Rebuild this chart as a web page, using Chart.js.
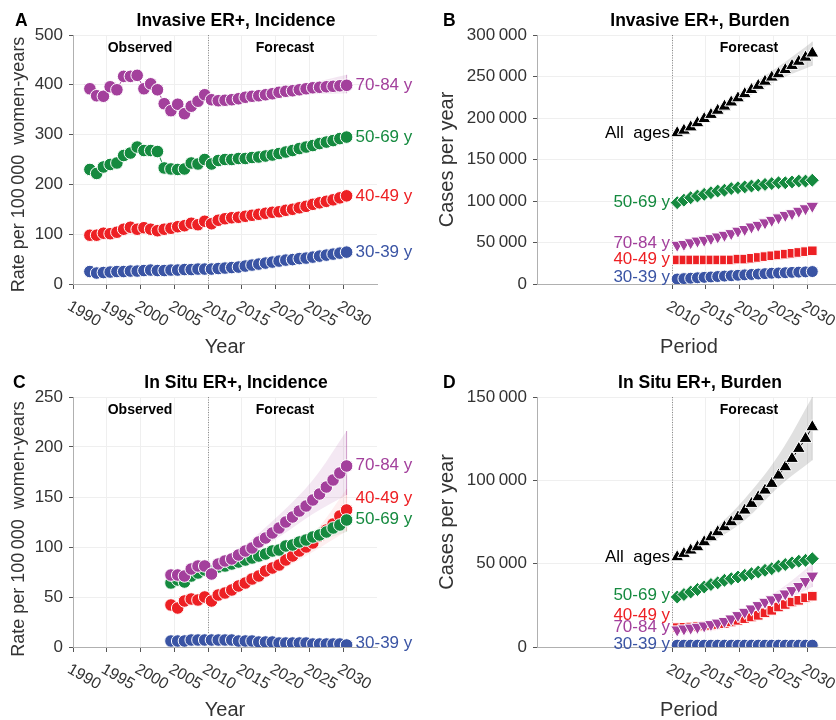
<!DOCTYPE html>
<html>
<head>
<meta charset="utf-8">
<script src="https://cdn.jsdelivr.net/npm/chart.js@4"></script>
<style>
html, body { margin: 0; padding: 0; background: #fff; width: 836px; height: 720px; overflow: hidden; }
.panel { position: absolute; }
</style>
</head>
<body>
<div class="panel" style="left:0;top:0"><canvas id="cA" width="418" height="370"></canvas></div>
<div class="panel" style="left:420px;top:0"><canvas id="cB" width="430" height="370"></canvas></div>
<div class="panel" style="left:0;top:370px"><canvas id="cC" width="418" height="350"></canvas></div>
<div class="panel" style="left:420px;top:370px"><canvas id="cD" width="430" height="350"></canvas></div>
<script>
"use strict";

// ---- data ----
const invIncYears = [1992, 1993, 1994, 1995, 1996, 1997, 1998, 1999, 2000, 2001, 2002, 2003, 2004, 2005, 2006, 2007, 2008, 2009,
  2010, 2011, 2012, 2013, 2014, 2015, 2016, 2017, 2018, 2019, 2020, 2021, 2022, 2023, 2024, 2025, 2026, 2027, 2028, 2029, 2030];
const invInc30 = [25, 22, 23, 24, 25, 25, 26, 26, 27, 28, 27, 27, 28, 28, 29, 29, 30, 30,
  30, 31, 32, 33, 34, 36, 38, 40, 42, 44, 46, 48, 49, 51, 52, 54, 56, 58, 60, 62, 64];
const invInc40 = [98, 98, 102, 101, 104, 110, 114, 110, 113, 110, 107, 110, 112, 115, 117, 122, 119, 126,
  121, 128, 131, 133, 134, 136, 138, 140, 142, 144, 145, 148, 150, 153, 156, 160, 163, 166, 169, 173, 177];
const invInc50 = [230, 222, 235, 240, 243, 258, 263, 275, 268, 268, 266, 233, 231, 230, 231, 243, 241, 250,
  241, 248, 250, 250, 252, 252, 254, 255, 257, 259, 262, 265, 268, 272, 275, 278, 282, 285, 288, 292, 295];
const invInc70 = [392, 378, 377, 396, 390, 417, 417, 419, 392, 402, 390, 362, 348, 361, 342, 357, 367, 380,
  370, 368, 369, 370, 372, 375, 377, 378, 380, 382, 385, 387, 388, 390, 392, 394, 395, 396, 397, 398, 399];

const situIncYears = [2004, 2005, 2006, 2007, 2008, 2009, 2010, 2011, 2012, 2013, 2014, 2015, 2016, 2017,
  2018, 2019, 2020, 2021, 2022, 2023, 2024, 2025, 2026, 2027, 2028, 2029, 2030];
const situInc30 = [6, 6, 6, 7, 7, 7, 7, 7, 7, 7, 6, 6, 6, 5, 5, 5, 4, 4, 4, 4, 4, 3, 3, 3, 3, 3, 2];
const situInc40 = [42, 39, 46, 48, 47, 50, 46, 52, 54, 57, 61, 64, 68, 71, 76, 79, 82, 87, 91, 96, 100, 104, 111, 117, 123, 131, 137];
const situInc50 = [64, 67, 65, 71, 74, 77, 76, 80, 81, 83, 85, 87, 89, 91, 93, 96, 97, 101, 102, 105, 107, 110, 112, 115, 119, 122, 127];
const situInc70 = [72, 72, 71, 78, 81, 81, 73, 83, 86, 88, 92, 96, 99, 105, 109, 114, 119, 125, 130, 136, 141, 147, 153, 160, 167, 174, 181];

const burdenYears = [2010, 2011, 2012, 2013, 2014, 2015, 2016, 2017, 2018, 2019, 2020,
  2021, 2022, 2023, 2024, 2025, 2026, 2027, 2028, 2029, 2030];
const invBurAll = [182000, 185000, 189000, 194000, 199000, 204000, 209000, 214000, 219000, 224000, 229000,
  234000, 239000, 244000, 249000, 253000, 258000, 263000, 268000, 273000, 278000];
const invBur50 = [98000, 101000, 104000, 106000, 108000, 110000, 112000, 113000, 115000, 116000, 117000,
  118000, 119000, 120000, 121000, 122000, 122000, 123000, 124000, 124000, 125000];
const invBur70 = [47000, 48000, 50000, 52000, 53000, 55000, 57000, 59000, 61000, 64000, 66000,
  69000, 71000, 74000, 77000, 80000, 83000, 85000, 88000, 91000, 94000];
const invBur40 = [29000, 29000, 29000, 29000, 29000, 29000, 29000, 29000, 29000, 30000, 30000,
  31000, 32000, 33000, 34000, 35000, 36000, 37000, 38000, 39000, 40000];
const invBur30 = [6000, 6500, 7000, 7500, 8000, 8500, 9000, 9500, 10000, 10500, 11000,
  11500, 12000, 12500, 13000, 13300, 13600, 14000, 14300, 14600, 15000];

const situBurAll = [54000, 56000, 58000, 60000, 63000, 66000, 69000, 72000, 75000, 78000, 82000,
  86000, 90000, 94000, 98000, 103000, 108000, 113000, 119000, 125000, 132000];
const situBur50 = [30000, 31500, 33000, 34500, 36000, 37500, 38500, 40000, 41000, 42000, 43000,
  44000, 45000, 46000, 47000, 48500, 49500, 50500, 51500, 52000, 53000];
const situBur70 = [10400, 11000, 11500, 12000, 12800, 13600, 14500, 15500, 17000, 19000, 21000,
  23000, 25000, 27000, 28500, 30000, 32000, 34000, 36500, 39500, 42700];
const situBur40 = [11600, 11800, 12000, 12300, 12600, 13000, 13500, 14000, 15000, 16000, 17000,
  18000, 19000, 20500, 22000, 24000, 25500, 27000, 28000, 29500, 30500];
const situBur30 = [1100, 1100, 1100, 1100, 1100, 1100, 1100, 1100, 1100, 1100, 1100,
  1100, 1100, 1100, 1100, 1100, 1100, 1100, 1100, 1100, 1100];

// forecast uncertainty bands, read at five-year marks
const bandYears = [2010, 2015, 2020, 2025, 2030];
const invInc70Lo = [370, 372, 376, 381, 383];
const invInc70Hi = [370, 378, 390, 404, 420];
const situInc70Lo = [73, 90, 110, 133, 152];
const situInc70Hi = [73, 102, 132, 167, 216];
const situInc40Lo = [46, 60, 76, 95, 116];
const situInc40Hi = [46, 68, 88, 113, 158];
const situInc50Lo = [76, 84, 93, 104, 115];
const situInc50Hi = [76, 90, 102, 116, 140];
const invBurAllLo = [182000, 199000, 223000, 246000, 263000];
const invBurAllHi = [182000, 209000, 235000, 262000, 292000];
const situBurAllLo = [54000, 63000, 76000, 96000, 112000];
const situBurAllHi = [54000, 69000, 89000, 115000, 150000];
const situBur70Lo = [10400, 12500, 19000, 26000, 36000];
const situBur70Hi = [10400, 14500, 23000, 34000, 50000];
const situBur40Lo = [11600, 12500, 15500, 21000, 27000];
const situBur40Hi = [11600, 13500, 18500, 27000, 34000];

const xTicksInc = [1990, 1995, 2000, 2005, 2010, 2015, 2020, 2025, 2030];
const xTicksBur = [2010, 2015, 2020, 2025, 2030];

// ---- styling ----
const FONT = "'Liberation Sans', Arial, Helvetica, sans-serif";
const PURPLE = "#a3409c";
const GREEN = "#158a3f";
const RED = "#ed2024";
const BLUE = "#3a54a4";
const INC_OFF = 0.5;   // incidence points sit mid-year
const BUR_OFF = 0.75;

function pts(years, vals, off) {
  return years.map((yr, i) => ({ x: yr + off, y: vals[i] }));
}

function series(years, vals, off, color, shape, radius, order, rot) {
  return {
    data: pts(years, vals, off),
    borderColor: color,
    borderWidth: 1,
    backgroundColor: color,
    pointBackgroundColor: color,
    pointBorderColor: "#fff",
    pointBorderWidth: 1,
    pointStyle: shape,
    pointRotation: rot || 0,
    pointRadius: radius,
    tension: 0,
    fill: false,
    order: order,
  };
}

function band(years, lo, hi, off, fillColor, edgeColor) {
  const n = years.length - 1;
  return [
    { data: pts(years, lo, off), borderWidth: 0, pointRadius: 0, fill: false, tension: 0.35, order: 10 },
    { data: pts(years, hi, off), borderWidth: 0, pointRadius: 0, fill: "-1", backgroundColor: fillColor, tension: 0.35, order: 10 },
    { data: [{ x: years[n] + off, y: lo[n] }, { x: years[n] + off, y: hi[n] }],
      borderColor: edgeColor, borderWidth: 1, pointRadius: 0, fill: false, order: 10 },
  ];
}

function thinSpace(v) {
  return String(v).replace(/\B(?=(\d{3})+(?!\d))/g, "\u2009");
}

const panels = {
  cA: {
    geo: { w: 418, h: 370, left: 73, top: 35, right: 377, bottom: 284 },
    title: "Invasive ER+, Incidence", letter: "A", letterX: 15,
    yTitle: "Rate per 100\u2009000  women-years", yTitleX: 19, yTitleDy: 5, yTitleSize: 18,
    xTitle: "Year", xTicks: xTicksInc, observed: true, side: "right",
    labels: [
      { text: "70-84 y", color: PURPLE, y: invInc70[invInc70.length - 1] },
      { text: "50-69 y", color: GREEN, y: invInc50[invInc50.length - 1] },
      { text: "40-49 y", color: RED, y: invInc40[invInc40.length - 1] },
      { text: "30-39 y", color: BLUE, y: invInc30[invInc30.length - 1] },
    ],
  },
  cB: {
    geo: { w: 430, h: 370, left: 117, top: 35, right: 421, bottom: 284 },
    title: "Invasive ER+, Burden", letter: "B", letterX: 23,
    yTitle: "Cases per year", yTitleX: 27, yTitleDy: 0, yTitleSize: 20,
    xTitle: "Period", xTicks: xTicksBur, observed: false, side: "left",
    labels: [
      { text: "All  ages", color: "#000", y: 182000 },
      { text: "50-69 y", color: GREEN, y: 99000 },
      { text: "70-84 y", color: PURPLE, y: 49000 },
      { text: "40-49 y", color: RED, y: 30000 },
      { text: "30-39 y", color: BLUE, y: 7600 },
    ],
  },
  cC: {
    geo: { w: 418, h: 350, left: 73, top: 27, right: 377, bottom: 277 },
    title: "In Situ ER+, Incidence", letter: "C", letterX: 13,
    yTitle: "Rate per 100\u2009000  women-years", yTitleX: 19, yTitleDy: 7, yTitleSize: 18,
    xTitle: "Year", xTicks: xTicksInc, observed: true, side: "right",
    labels: [
      { text: "70-84 y", color: PURPLE, y: 182 },
      { text: "40-49 y", color: RED, y: 149 },
      { text: "50-69 y", color: GREEN, y: 128 },
      { text: "30-39 y", color: BLUE, y: 4 },
    ],
  },
  cD: {
    geo: { w: 430, h: 350, left: 117, top: 27, right: 421, bottom: 277 },
    title: "In Situ ER+, Burden", letter: "D", letterX: 23,
    yTitle: "Cases per year", yTitleX: 27, yTitleDy: 0, yTitleSize: 20,
    xTitle: "Period", xTicks: xTicksBur, observed: false, side: "left",
    labels: [
      { text: "All  ages", color: "#000", y: 54000 },
      { text: "50-69 y", color: GREEN, y: 31000 },
      { text: "40-49 y", color: RED, y: 19000 },
      { text: "70-84 y", color: PURPLE, y: 11700 },
      { text: "30-39 y", color: BLUE, y: 1600 },
    ],
  },
};

const deco = {
  id: "deco",
  beforeDatasetsDraw(chart) {
    const { ctx, chartArea: a } = chart;
    const px = Math.round(chart.scales.x.getPixelForValue(2010)) + 0.5;
    ctx.save();
    ctx.strokeStyle = "#8a8a8a";
    ctx.lineWidth = 1;
    ctx.setLineDash([1, 1.5]);
    ctx.beginPath();
    ctx.moveTo(px, a.top);
    ctx.lineTo(px, a.bottom);
    ctx.stroke();
    ctx.restore();
  },
  afterDraw(chart) {
    const p = panels[chart.canvas.id];
    const { ctx, chartArea: a } = chart;
    const { x, y } = chart.scales;
    ctx.save();
    ctx.textBaseline = "middle";
    ctx.fillStyle = "#000";

    ctx.font = `bold 17.5px ${FONT}`;
    ctx.textAlign = "center";
    ctx.fillText(p.title, a.left + 163, a.top - 14);
    ctx.textAlign = "left";
    ctx.fillText(p.letter, p.letterX, a.top - 14);

    ctx.font = `bold 14px ${FONT}`;
    ctx.textAlign = "center";
    if (p.observed) ctx.fillText("Observed", a.left + 67, a.top + 13);
    ctx.fillText("Forecast", a.left + 212, a.top + 13);

    // rotated x tick labels
    ctx.fillStyle = "#333";
    ctx.font = `16px ${FONT}`;
    p.xTicks.forEach((t) => {
      const tx = x.getPixelForValue(t);
      ctx.save();
      ctx.translate(tx + 11, a.bottom + 30);
      ctx.rotate(Math.PI / 6);
      ctx.fillText(String(t), 0, 0);
      ctx.restore();
    });

    // axis titles
    ctx.font = `20px ${FONT}`;
    ctx.fillText(p.xTitle, (a.left + a.right) / 2, a.bottom + 63);
    ctx.font = `${p.yTitleSize}px ${FONT}`;
    ctx.save();
    ctx.translate(p.yTitleX, (a.top + a.bottom) / 2 + p.yTitleDy);
    ctx.rotate(-Math.PI / 2);
    ctx.fillText(p.yTitle, 0, 0);
    ctx.restore();

    // series labels
    ctx.font = `17px ${FONT}`;
    const lx = p.side === "right" ? x.getPixelForValue(2030 + INC_OFF) + 9 : x.getPixelForValue(2010) - 2;
    ctx.textAlign = p.side === "right" ? "left" : "right";
    p.labels.forEach((l) => {
      ctx.fillStyle = l.color;
      ctx.fillText(l.text, lx, y.getPixelForValue(l.y));
    });
    ctx.restore();
  },
};

function makeChart(id, yMax, yStep, datasets) {
  const p = panels[id];
  const g = p.geo;
  const first = p.xTicks[0];
  const inRange = (c) => c.tick && c.tick.value >= first && c.tick.value <= 2030;
  return new Chart(document.getElementById(id), {
    type: "line",
    data: { datasets },
    options: {
      responsive: false,
      animation: false,
      layout: { padding: { top: g.top, right: g.w - g.right, left: 0, bottom: 0 } },
      plugins: { legend: { display: false }, tooltip: { enabled: false }, title: { display: false } },
      scales: {
        x: {
          type: "linear", min: 1990, max: 2035,
          afterFit: (s) => { s.height = g.h - g.bottom; },
          ticks: { display: false, stepSize: 5 },
          border: { color: "#b0b0b0", width: 1 },
          grid: {
            color: (c) => (inRange(c) ? "#efefef" : "rgba(0,0,0,0)"),
            tickColor: (c) => (inRange(c) ? "#555" : "rgba(0,0,0,0)"),
            tickLength: 5,
          },
        },
        y: {
          min: 0, max: yMax,
          afterFit: (s) => { s.width = g.left; },
          ticks: { stepSize: yStep, padding: 6, color: "#333", font: { size: 17, family: FONT }, callback: (v) => thinSpace(v) },
          border: { color: "#b0b0b0", width: 1 },
          grid: { color: "#efefef", tickColor: "#555", tickLength: 4 },
        },
      },
    },
    plugins: [deco],
  });
}

makeChart("cA", 500, 100, [
  series(invIncYears, invInc70, INC_OFF, PURPLE, "circle", 6.3, 1),
  series(invIncYears, invInc50, INC_OFF, GREEN, "circle", 6.3, 2),
  series(invIncYears, invInc40, INC_OFF, RED, "circle", 6.3, 3),
  series(invIncYears, invInc30, INC_OFF, BLUE, "circle", 6.3, 4),
  ...band(bandYears, invInc70Lo, invInc70Hi, INC_OFF, "rgba(163,64,156,0.13)", "rgba(163,64,156,0.45)"),
]);

makeChart("cB", 300000, 50000, [
  series(burdenYears, invBurAll, BUR_OFF, "#000", "triangle", 7.5, 0),
  series(burdenYears, invBur50, BUR_OFF, GREEN, "rectRot", 7, 1),
  series(burdenYears, invBur70, BUR_OFF, PURPLE, "triangle", 7.5, 2, 180),
  series(burdenYears, invBur40, BUR_OFF, RED, "rect", 6.8, 3),
  series(burdenYears, invBur30, BUR_OFF, BLUE, "circle", 6, 4),
  ...band(bandYears, invBurAllLo, invBurAllHi, BUR_OFF, "rgba(0,0,0,0.12)", "rgba(0,0,0,0.15)"),
]);

makeChart("cC", 250, 50, [
  series(situIncYears, situInc70, INC_OFF, PURPLE, "circle", 6.3, 1),
  series(situIncYears, situInc50, INC_OFF, GREEN, "circle", 6.3, 2),
  series(situIncYears, situInc40, INC_OFF, RED, "circle", 6.3, 3),
  series(situIncYears, situInc30, INC_OFF, BLUE, "circle", 6.3, 4),
  ...band(bandYears, situInc70Lo, situInc70Hi, INC_OFF, "rgba(163,64,156,0.12)", "rgba(163,64,156,0.5)"),
  ...band(bandYears, situInc40Lo, situInc40Hi, INC_OFF, "rgba(237,32,36,0.07)", "rgba(237,32,36,0.2)"),
  ...band(bandYears, situInc50Lo, situInc50Hi, INC_OFF, "rgba(21,138,63,0.07)", "rgba(21,138,63,0.2)"),
]);

makeChart("cD", 150000, 50000, [
  series(burdenYears, situBurAll, BUR_OFF, "#000", "triangle", 7.5, 0),
  series(burdenYears, situBur50, BUR_OFF, GREEN, "rectRot", 7, 1),
  series(burdenYears, situBur70, BUR_OFF, PURPLE, "triangle", 7.5, 2, 180),
  series(burdenYears, situBur40, BUR_OFF, RED, "rect", 6.8, 3),
  series(burdenYears, situBur30, BUR_OFF, BLUE, "circle", 6, 4),
  ...band(bandYears, situBurAllLo, situBurAllHi, BUR_OFF, "rgba(0,0,0,0.12)", "rgba(0,0,0,0.15)"),
  ...band(bandYears, situBur70Lo, situBur70Hi, BUR_OFF, "rgba(163,64,156,0.12)", "rgba(163,64,156,0.25)"),
  ...band(bandYears, situBur40Lo, situBur40Hi, BUR_OFF, "rgba(237,32,36,0.07)", "rgba(237,32,36,0.15)"),
]);
</script>
</body>
</html>
